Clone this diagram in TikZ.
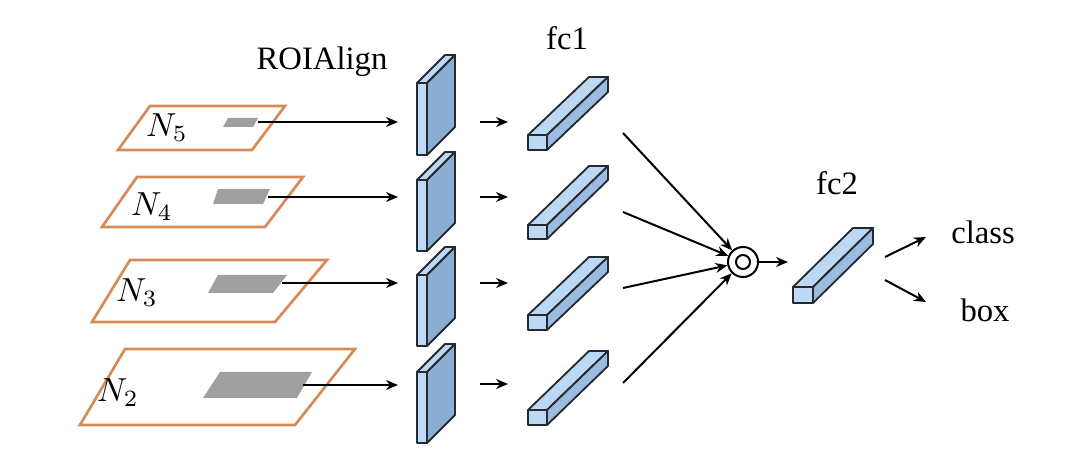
\documentclass[tikz,border=0pt]{standalone}
\usepackage{fontspec}
\setmainfont{Liberation Serif}
\usepackage{amsmath}
\usepackage{tikz}
\usetikzlibrary{arrows.meta}

\definecolor{levelorange}{RGB}{214,139,86}
\definecolor{roigray}{RGB}{160,160,160}
\definecolor{facelight}{RGB}{188,216,242}
\definecolor{slabside}{RGB}{140,174,210}
\definecolor{barside}{RGB}{155,188,222}
\definecolor{edgedark}{RGB}{35,42,50}

\tikzset{
  level/.style={draw=levelorange,line width=0.8pt,fill=white},
  roi/.style={fill=roigray},
  cubeedge/.style={draw=edgedark,line width=0.55pt,line join=round},
  arr/.style={-{Stealth[length=3.6pt,width=3pt]},line width=0.6pt},
  lbl/.style={font=\fontsize{9.8pt}{11pt}\selectfont}
}

% x y w h dx dy front side
\newcommand{\cuboid}[8]{%
  \filldraw[cubeedge,fill=#7] (#1,#2) rectangle ++(#3,#4);
  \filldraw[cubeedge,fill=#7] (#1,#2) -- ++(#5,-#6) -- ++(#3,0) -- ++(-#5,#6) -- cycle;
  \filldraw[cubeedge,fill=#8] (#1+#3,#2) -- ++(#5,-#6) -- ++(0,#4) -- ++(-#5,#6) -- cycle;
}

\begin{document}
\begin{tikzpicture}[x=0.3pt,y=-0.3pt]
\useasboundingbox (0,0) rectangle (1080,454);
% pyramid levels
\draw[level] (150,106) -- (285,106) -- (252,150) -- (118,150) -- cycle ;
\draw[level] (137,177) -- (303,177) -- (265,227) -- (102,227) -- cycle ;
\draw[level] (130,260) -- (327,260) -- (275,322) -- (92,322) -- cycle ;
\draw[level] (125,349) -- (355,349) -- (295,425) -- (80,425) -- cycle ;
\fill[roi] (228,118) -- (258,118) -- (253,127) -- (223,127) -- cycle ;
\fill[roi] (218,189) -- (270,189) -- (263,204) -- (213,204) -- cycle ;
\fill[roi] (218,275) -- (287,275) -- (273,293) -- (208,293) -- cycle ;
\fill[roi] (220,372) -- (312,372) -- (297,398) -- (203,398) -- cycle ;
\node[lbl] (n5) at (167,128) {$N_5$} ;
\node[lbl] (n4) at (152,207) {$N_4$} ;
\node[lbl] (n3) at (137,293) {$N_3$} ;
\node[lbl] (n2) at (118,393) {$N_2$} ;
% ROIAlign
\cuboid{417}{83}{10}{72}{28}{28}{facelight}{slabside}
\cuboid{417}{180}{10}{71}{28}{28}{facelight}{slabside}
\cuboid{417}{275}{10}{71}{28}{28}{facelight}{slabside}
\cuboid{417}{372}{10}{71}{28}{28}{facelight}{slabside}
% fc1
\cuboid{528}{135}{19}{15}{61}{58}{facelight}{barside}
\cuboid{528}{225}{19}{14}{61}{59}{facelight}{barside}
\cuboid{528}{315}{19}{15}{61}{58}{facelight}{barside}
\cuboid{528}{410}{19}{15}{61}{59}{facelight}{barside}
% fc2
\cuboid{793}{287}{20}{16}{60}{59}{facelight}{barside}
\node[lbl] (roialign) at (322,62) {ROIAlign} ;
\node[lbl] (fc1) at (567,38) {fc1} ;
\node[lbl] (fc2) at (837,183) {fc2} ;
\node[lbl] (cls) at (983,232) {class} ;
\node[lbl] (box) at (985,310) {box} ;
% connectors
\coordinate (g5) at (258,122) ;
\coordinate (g4) at (268,197) ;
\coordinate (g3) at (282,283) ;
\coordinate (g2) at (303,385) ;
\coordinate (s5) at (398,122) ;
\coordinate (s4) at (398,197) ;
\coordinate (s3) at (398,283) ;
\coordinate (s2) at (398,385) ;
\draw[arr] (g5) to (s5) ;
\draw[arr] (g4) to (s4) ;
\draw[arr] (g3) to (s3) ;
\draw[arr] (g2) to (s2) ;
\coordinate (a5) at (480,122) ;
\coordinate (a4) at (480,197) ;
\coordinate (a3) at (480,283) ;
\coordinate (a2) at (480,384) ;
\coordinate (b5) at (508,122) ;
\coordinate (b4) at (508,197) ;
\coordinate (b3) at (508,283) ;
\coordinate (b2) at (508,384) ;
\draw[arr] (a5) to (b5) ;
\draw[arr] (a4) to (b4) ;
\draw[arr] (a3) to (b3) ;
\draw[arr] (a2) to (b2) ;
\node[circle,draw,line width=0.6pt,minimum size=9pt,inner sep=0pt] (op) at (743,262) {} ;
\draw[line width=0.6pt] (op.center) circle [radius=7] ;
\coordinate (f5) at (623,133) ;
\coordinate (f4) at (623,212) ;
\coordinate (f3) at (623,288) ;
\coordinate (f2) at (623,383) ;
\draw[arr] (f5) to (op) ;
\draw[arr] (f4) to (op) ;
\draw[arr] (f3) to (op) ;
\draw[arr] (f2) to (op) ;
\coordinate (m) at (788,262) ;
\draw[arr] (op) to (m) ;
\coordinate (c0) at (885,257) ;
\coordinate (c1) at (926,237) ;
\coordinate (d0) at (885,280) ;
\coordinate (d1) at (926,302) ;
\draw[arr] (c0) to (c1) ;
\draw[arr] (d0) to (d1) ;
\end{tikzpicture}
\end{document}
